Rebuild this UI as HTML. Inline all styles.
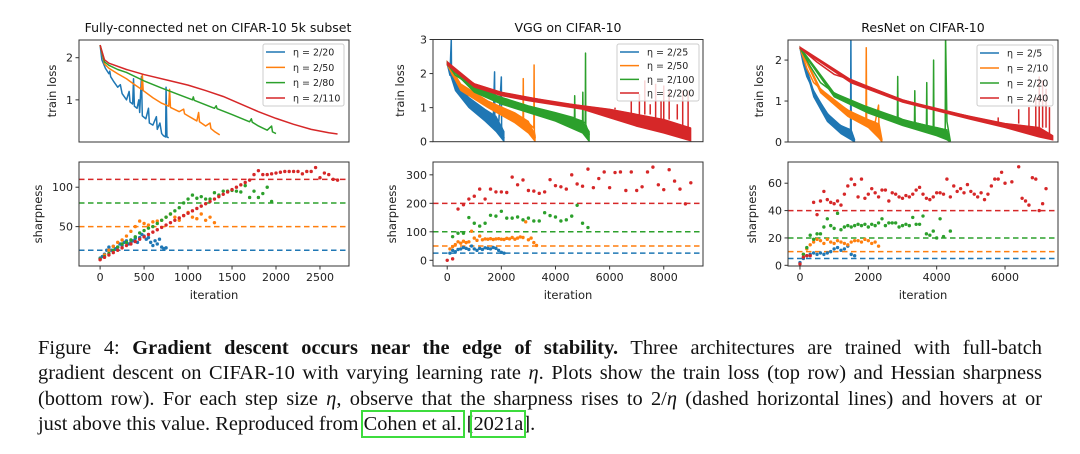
<!DOCTYPE html>
<html><head><meta charset="utf-8">
<style>
body{margin:0;width:1080px;height:454px;background:#fff;overflow:hidden;position:relative}
svg{position:absolute;left:0;top:0}
#cap{position:absolute;left:38px;top:336px;width:1004px;font-family:"Liberation Serif",serif;font-size:20.4px;line-height:25.4px;color:#111}
#cap div{text-align:justify;text-align-last:justify;white-space:nowrap}
#cap div.last{text-align-last:left}
.bx{outline:2px solid #3ddc3d;outline-offset:1px}
</style></head><body>
<svg id="fig" width="1080" height="330" xmlns="http://www.w3.org/2000/svg" font-family="DejaVu Sans, sans-serif"></svg>
<div id="cap">
<div>Figure 4: <b>Gradient descent occurs near the edge of stability.</b> Three architectures are trained with full-batch</div>
<div>gradient descent on CIFAR-10 with varying learning rate <i>η</i>. Plots show the train loss (top row) and Hessian sharpness</div>
<div>(bottom row). For each step size <i>η</i>, observe that the sharpness rises to 2/<i>η</i> (dashed horizontal lines) and hovers at or</div>
<div class="last">just above this value. Reproduced from <span class="bx">Cohen et al.</span> [<span class="bx">2021a</span>].</div>
</div>
<script>
// ---------- data ----------
const colors=["#1f77b4","#ff7f0e","#2ca02c","#d62728"];
const fcLabels=["η = 2/20","η = 2/50","η = 2/80","η = 2/110"];
const vggLabels=["η = 2/25","η = 2/50","η = 2/100","η = 2/200"];
const resLabels=["η = 2/5","η = 2/10","η = 2/20","η = 2/40"];
const fcThresholds=[20,50,80,110];
const vggThresholds=[25,50,100,200];
const resThresholds=[5,10,20,40];
// loss curves [iteration, loss]
const fcLossBlue=[[0,2.3],[20,1.95],[60,1.75],[100,1.62],[110,1.68],[120,1.55],[150,1.45],[200,1.3],[230,1.36],[250,1.15],[300,1.0],[330,1.2],[340,0.95],[370,0.9],[380,1.5],[390,0.85],[420,0.8],[440,1.0],[450,0.7],[470,1.55],[480,0.62],[520,0.55],[550,0.8],[560,0.45],[600,0.4],[640,0.6],[650,0.3],[680,0.45],[700,0.2],[720,0.15],[745,0.12],[750,1.3],[760,0.12],[780,0.1]];
const fcLossOrange=[[0,2.3],[50,1.85],[100,1.75],[200,1.62],[300,1.5],[400,1.35],[470,1.25],[480,1.6],[490,1.22],[600,1.05],[700,0.92],[780,0.85],[790,1.25],[800,0.82],[900,0.72],[950,0.78],[960,0.67],[1000,0.62],[1100,0.5],[1120,0.7],[1130,0.48],[1200,0.38],[1250,0.45],[1260,0.32],[1300,0.25],[1360,0.17]];
const fcLossGreen=[[0,2.3],[50,1.9],[100,1.82],[200,1.72],[300,1.65],[400,1.55],[500,1.45],[700,1.28],[900,1.12],[1050,1.0],[1060,1.07],[1070,0.99],[1300,0.8],[1320,0.86],[1330,0.79],[1500,0.65],[1700,0.48],[1720,0.55],[1730,0.47],[1800,0.38],[1900,0.28],[1950,0.38],[1960,0.24],[2000,0.2]];
const fcLossRed=[[0,2.3],[50,1.95],[100,1.87],[300,1.72],[500,1.6],[800,1.45],[1000,1.35],[1200,1.22],[1400,1.08],[1600,0.9],[1800,0.72],[2000,0.56],[2200,0.42],[2400,0.3],[2600,0.22],[2700,0.19]];
const vggLossBlue=[[0,2.3],[100,1.95],[150,3.0],[160,1.9],[300,1.65],[500,1.45],[800,1.2],[1100,1.0],[1400,0.8],[1700,0.6],[1750,2.05],[1760,0.58],[1900,0.5],[2000,1.9],[2010,0.45],[2100,0.1]];
const vggBandBlue=[[0,2.35,2.25],[300,1.75,1.5],[800,1.3,1.0],[1400,0.95,0.6],[1800,0.75,0.3],[2100,0.3,0.0]];
const vggLossOrange=[[0,2.3],[200,1.95],[500,1.65],[1000,1.35],[1500,1.15],[2000,1.0],[2500,0.8],[2800,0.65],[2810,1.85],[2820,0.65],[3000,0.55],[3200,0.4],[3210,2.25],[3220,0.3],[3250,0.1]];
const vggBandOrange=[[0,2.35,2.25],[500,1.7,1.5],[1500,1.2,1.0],[2500,0.85,0.55],[3000,0.6,0.25],[3250,0.2,0.0]];
const vggLossGreen=[[0,2.3],[300,1.95],[1000,1.6],[2000,1.3],[3000,1.05],[4000,0.85],[4700,0.7],[4710,1.35],[4720,0.68],[5000,0.6],[5010,1.45],[5020,0.58],[5100,0.55],[5110,2.6],[5120,0.5],[5250,0.2]];
const vggBandGreen=[[0,2.35,2.25],[1000,1.6,1.45],[2000,1.3,1.1],[3000,1.05,0.85],[4000,0.85,0.6],[5000,0.6,0.25],[5250,0.3,0.0]];
const vggLossRed=[[0,2.3],[300,2.05],[1000,1.7],[2000,1.45],[3000,1.3],[4000,1.15],[5000,1.05],[6000,0.95],[7000,0.8],[8000,0.65],[9000,0.4]];
const vggBandRed=[[0,2.35,2.25],[1000,1.7,1.6],[2000,1.45,1.35],[3000,1.3,1.2],[5000,1.05,0.95],[6000,0.95,0.7],[7000,0.8,0.45],[8000,0.65,0.25],[9000,0.4,0.02]];
const vggSpikesRed=[[6200,1.0],[6800,1.2],[7100,1.4],[7300,1.8],[7500,1.1],[7700,1.7],[7900,1.2],[8000,1.65],[8200,1.5],[8500,1.1],[8700,1.5],[8900,1.5]];
const resLossBlue=[[0,2.3],[100,1.9],[200,1.6],[400,1.25],[600,0.95],[800,0.7],[1000,0.5],[1200,0.4],[1400,0.32],[1480,0.3],[1490,2.6],[1500,0.28],[1600,0.05]];
const resBandBlue=[[0,2.32,2.28],[400,1.25,1.1],[800,0.7,0.5],[1200,0.4,0.2],[1500,0.3,0.05],[1600,0.05,0.0]];
const resLossOrange=[[0,2.3],[200,1.8],[400,1.45],[600,1.3],[1000,1.0],[1400,0.78],[1800,0.6],[1930,0.55],[1940,2.3],[1950,0.55],[2200,0.48],[2300,0.9],[2310,0.45],[2400,0.05]];
const resBandOrange=[[0,2.32,2.28],[600,1.3,1.2],[1400,0.78,0.62],[2000,0.55,0.35],[2300,0.45,0.1],[2400,0.05,0]];
const resLossGreen=[[0,2.3],[300,1.85],[600,1.45],[1000,1.2],[1500,0.98],[2000,0.85],[2500,0.7],[2850,0.6],[2860,1.6],[2870,0.6],[3000,0.55],[3350,0.47],[3360,1.25],[3370,0.47],[3700,0.4],[3710,1.45],[3720,0.4],[3900,0.37],[3910,2.0],[3920,0.36],[4000,0.35],[4250,0.3],[4260,2.6],[4300,0.5],[4400,0.02]];
const resBandGreen=[[0,2.32,2.28],[1000,1.2,1.1],[2000,0.85,0.7],[3000,0.55,0.4],[4000,0.35,0.15],[4300,0.3,0.05],[4400,0.02,0]];
const resLossRed=[[0,2.3],[500,1.95],[1000,1.65],[1500,1.52],[2000,1.35],[3000,1.03],[4000,0.8],[5000,0.62],[6000,0.45],[7000,0.35],[7400,0.15]];
const resBandRed=[[0,2.32,2.28],[1500,1.52,1.44],[3000,1.03,0.97],[5000,0.62,0.55],[6000,0.45,0.35],[7000,0.35,0.12],[7400,0.15,0.05]];
const resSpikesRed=[[5800,0.6],[6400,0.8],[6700,0.85],[6900,1.1],[7000,1.6],[7100,1.5],[7200,1.3],[7300,0.85]];
// sharpness [iteration, value]
const fcSharpBlue=[[0,10],[25,12],[50,15],[75,20],[100,24],[125,20],[150,25],[175,22],[200,24],[225,28],[250,26],[275,30],[300,32],[325,28],[350,30],[375,32],[400,35],[425,30],[450,36],[475,40],[500,38],[525,34],[550,36],[575,30],[600,26],[625,32],[650,28],[675,34],[700,24],[725,22],[750,23]];
const fcSharpOrange=[[0,9],[50,14],[100,20],[150,25],[200,30],[250,33],[300,38],[350,44],[400,50],[450,57],[500,54],[550,52],[600,56],[650,57],[700,58],[750,62],[800,66],[850,62],[900,58],[950,64],[1000,68],[1050,62],[1100,60],[1150,66],[1200,58],[1250,62],[1300,55]];
const fcSharpGreen=[[0,9],[50,12],[100,16],[150,20],[200,24],[250,28],[300,30],[350,33],[400,37],[450,42],[500,45],[550,48],[600,50],[650,54],[700,58],[750,62],[800,66],[850,70],[900,74],[950,80],[1000,85],[1050,90],[1100,86],[1150,88],[1200,85],[1250,85],[1300,93],[1350,90],[1400,95],[1450,95],[1500,96],[1550,95],[1600,94],[1650,102],[1700,87],[1750,95],[1800,87],[1850,92],[1900,100],[1950,82]];
const fcSharpRed=[[0,8],[50,11],[100,14],[150,17],[200,20],[250,23],[300,26],[350,28],[400,31],[450,34],[500,37],[550,40],[600,43],[650,46],[700,49],[750,52],[800,55],[850,58],[900,61],[950,64],[1000,67],[1050,70],[1100,73],[1150,76],[1200,79],[1250,82],[1300,85],[1350,88],[1400,91],[1450,94],[1500,97],[1550,100],[1600,103],[1650,106],[1700,109],[1750,116],[1800,121],[1850,116],[1900,116],[1950,117],[2000,118],[2050,119],[2100,120],[2150,120],[2200,120],[2250,120],[2300,117],[2350,120],[2400,120],[2450,125],[2500,112],[2550,118],[2600,116],[2650,110],[2700,109]];
const vggSharpBlue=[[100,25],[200,35],[300,30],[400,38],[500,40],[600,45],[700,42],[800,38],[900,50],[1000,40],[1100,35],[1200,42],[1300,38],[1400,44],[1500,42],[1600,40],[1700,45],[1800,42],[1900,35],[2000,28],[2100,25]];
const vggSharpOrange=[[100,40],[200,48],[300,55],[400,65],[500,60],[600,67],[700,62],[800,65],[900,102],[1000,78],[1100,70],[1200,85],[1300,72],[1400,75],[1500,74],[1600,76],[1700,73],[1800,75],[1900,76],[2000,74],[2100,73],[2200,77],[2300,75],[2400,80],[2500,74],[2600,78],[2700,82],[2800,80],[2900,135],[3000,72],[3100,78],[3200,62],[3300,52]];
const vggSharpGreen=[[200,83],[400,95],[600,95],[800,150],[1000,130],[1200,120],[1400,130],[1600,158],[1800,155],[2000,172],[2200,148],[2400,148],[2600,152],[2800,142],[3000,148],[3200,138],[3400,138],[3600,167],[3800,157],[4000,152],[4200,138],[4400,142],[4600,155],[4800,193],[5000,130],[5200,115]];
const vggSharpRed=[[0,0],[200,5],[400,180],[600,195],[800,215],[1000,225],[1200,250],[1400,215],[1600,250],[1800,240],[2000,240],[2200,238],[2400,292],[2600,265],[2800,282],[3000,245],[3200,243],[3400,235],[3600,240],[3800,283],[4000,262],[4200,258],[4400,250],[4600,300],[4800,268],[5000,260],[5200,320],[5400,255],[5600,287],[5800,310],[6000,255],[6200,308],[6400,310],[6600,245],[6800,310],[7000,245],[7200,258],[7400,310],[7600,327],[7800,265],[8000,248],[8200,318],[8400,278],[8600,250],[8800,198],[9000,272]];
const resSharpBlue=[[0,2],[100,5],[200,7],[300,8],[400,9],[500,8],[600,9],[700,8],[800,9],[900,10],[1000,12],[1100,13],[1200,11],[1300,12],[1400,14],[1500,8],[1600,7]];
const resSharpOrange=[[100,8],[200,12],[300,15],[400,17],[500,19],[600,18],[700,16],[800,19],[900,17],[1000,16],[1100,18],[1200,17],[1300,16],[1400,15],[1500,17],[1600,18],[1700,18],[1800,17],[1900,19],[2000,18],[2100,16],[2200,17],[2300,14]];
const resSharpGreen=[[100,8],[200,13],[300,22],[400,19],[500,23],[600,23],[700,28],[800,34],[900,29],[1000,27],[1100,38],[1200,26],[1300,28],[1400,29],[1500,28],[1600,29],[1700,30],[1800,29],[1900,30],[2000,28],[2100,30],[2200,29],[2300,31],[2400,34],[2500,29],[2600,31],[2700,31],[2800,31],[2900,28],[3000,29],[3100,30],[3200,29],[3300,35],[3400,30],[3500,30],[3600,36],[3700,23],[3800,22],[3900,25],[4000,20],[4100,34],[4200,21],[4400,25]];
const resSharpRed=[[0,1],[100,6],[200,7],[300,7],[400,46],[500,37],[600,47],[700,54],[800,48],[900,46],[1000,45],[1100,47],[1200,44],[1300,52],[1400,58],[1500,63],[1600,59],[1700,50],[1800,63],[1900,49],[2000,52],[2100,56],[2200,53],[2300,50],[2400,55],[2500,55],[2600,47],[2700,53],[2800,52],[2900,50],[3000,49],[3100,51],[3200,50],[3300,52],[3400,55],[3500,57],[3600,52],[3700,49],[3800,48],[3900,50],[4000,53],[4100,53],[4200,52],[4300,63],[4400,50],[4500,58],[4600,54],[4700,56],[4800,53],[4900,59],[5000,54],[5100,52],[5200,50],[5300,53],[5400,48],[5500,52],[5600,58],[5700,63],[5800,63],[5900,68],[6000,60],[6200,61],[6400,72],[6500,49],[6600,47],[6700,44],[6800,64],[6900,63],[7000,40],[7100,45],[7200,56]];
const fcXTicks=[0,500,1000,1500,2000,2500];
const vggXTicks=[0,2000,4000,6000,8000];
const resXTicks=[0,2000,4000,6000];

// ---------- layout ----------
const NS="http://www.w3.org/2000/svg";
const fig=document.getElementById('fig');
function el(tag,attrs,parent){const e=document.createElementNS(NS,tag);for(const k in attrs)e.setAttribute(k,attrs[k]);(parent||fig).appendChild(e);return e;}
function txt(s,attrs,parent){const e=el('text',attrs,parent);e.textContent=s;return e;}

const panels=[
 {title:"Fully-connected net on CIFAR-10 5k subset",tx:218,L:79,R:349,xmin:-240,xmax:2830,
  tY:[40,142],tDom:[2.42,0],tTicks:[1,2],bY:[162,266],bDom:[132,0],bTicks:[50,100],xTicks:fcXTicks,
  ylabX1:52,ylabX2:38,labels:fcLabels,leg:[263,44,81,62],thr:fcThresholds,
  loss:[fcLossBlue,fcLossOrange,fcLossGreen,fcLossRed],band:[null,null,null,null],spikes:[null,null,null,null],
  sharp:[fcSharpBlue,fcSharpOrange,fcSharpGreen,fcSharpRed]},
 {title:"VGG on CIFAR-10",tx:568,L:433,R:703,xmin:-525,xmax:9450,
  tY:[39.5,141.7],tDom:[3,0],tTicks:[0,1,2,3],bY:[162,266],bDom:[345,-20],bTicks:[0,100,200,300],xTicks:vggXTicks,
  ylabX1:400,ylabX2:392,labels:vggLabels,leg:[617,44,82,57],thr:vggThresholds,
  loss:[vggLossBlue,vggLossOrange,vggLossGreen,vggLossRed],band:[vggBandBlue,vggBandOrange,vggBandGreen,vggBandRed],spikes:[null,null,null,vggSpikesRed],
  sharp:[vggSharpBlue,vggSharpOrange,vggSharpGreen,vggSharpRed]},
 {title:"ResNet on CIFAR-10",tx:923,L:788,R:1058,xmin:-350,xmax:7550,
  tY:[40,142],tDom:[2.49,0],tTicks:[0,1,2],bY:[162,266],bDom:[75.5,-0.5],bTicks:[0,20,40,60],xTicks:resXTicks,
  ylabX1:759,ylabX2:752,labels:resLabels,leg:[977,45,76,61],thr:resThresholds,
  loss:[resLossBlue,resLossOrange,resLossGreen,resLossRed],band:[resBandBlue,resBandOrange,resBandGreen,resBandRed],spikes:[null,null,null,resSpikesRed],
  sharp:[resSharpBlue,resSharpOrange,resSharpGreen,resSharpRed]}
];

panels.forEach((p,pi)=>{
 const g=el('g',{});
 
 
 const sx=v=>p.L+(v-p.xmin)/(p.xmax-p.xmin)*(p.R-p.L);
 const syT=v=>p.tY[0]+(p.tDom[0]-v)/(p.tDom[0]-p.tDom[1])*(p.tY[1]-p.tY[0]);
 const syB=v=>p.bY[0]+(p.bDom[0]-v)/(p.bDom[0]-p.bDom[1])*(p.bY[1]-p.bY[0]);
 const t=txt(p.title,{x:p.tx,y:32,'font-size':12.5,'text-anchor':'middle',fill:'#111'},g);
 
 
 const cid='c'+pi;
 const defs=el('defs',{},g);
 const cp=el('clipPath',{id:cid+'t'},defs);el('rect',{x:p.L,y:p.tY[0],width:p.R-p.L,height:p.tY[1]-p.tY[0]},cp);
 const cp2=el('clipPath',{id:cid+'b'},defs);el('rect',{x:p.L,y:p.bY[0],width:p.R-p.L,height:p.bY[1]-p.bY[0]},cp2);
 const gt=el('g',{'clip-path':`url(#${cid}t)`},g);
 p.loss.forEach((arr,si)=>{
  const band=p.band[si];
  if(band){
   const up=band.map(d=>sx(d[0])+','+syT(d[1]));
   const lo=band.slice().reverse().map(d=>sx(d[0])+','+syT(d[2]));
   const poly=el('polygon',{points:up.concat(lo).join(' '),fill:colors[si],stroke:colors[si],'stroke-width':1},gt);
   
   
  }
  const line=el('polyline',{points:arr.map(d=>sx(d[0])+','+syT(d[1])).join(' '),fill:'none',stroke:colors[si],'stroke-width':1.5,'stroke-linejoin':'round'},gt);
  
  
  const sp=p.spikes[si];
  if(sp){sp.forEach(d=>{
   const base=arr.reduce((a,b)=>Math.abs(b[0]-d[0])<Math.abs(a[0]-d[0])?b:a);
   const s=el('line',{x1:sx(d[0]),x2:sx(d[0]),y1:syT(base[1]),y2:syT(d[1]),stroke:colors[si],'stroke-width':1.5},gt);
   
   
  });}
 });
 const gb=el('g',{'clip-path':`url(#${cid}b)`},g);
 p.thr.forEach((v,si)=>{
  const l=el('line',{x1:p.L,x2:p.R,y1:syB(v),y2:syB(v),stroke:colors[si],'stroke-width':1.5,'stroke-dasharray':'5.5,3.5'},gb);
  
  
 });
 p.sharp.forEach((arr,si)=>{arr.forEach(d=>{
  const c=el('circle',{cx:sx(d[0]),cy:syB(d[1]),r:1.7,fill:colors[si]},gb);
  
  
 });});
 [[p.tY,'top-axes-frame'],[p.bY,'bottom-axes-frame']].forEach(([yy,n])=>{
  const r=el('rect',{x:p.L,y:yy[0],width:p.R-p.L,height:yy[1]-yy[0],fill:'none',stroke:'#333','stroke-width':1},g);
  
  
 });
 p.tTicks.forEach(v=>{const y=syT(v);el('line',{x1:p.L-3.5,x2:p.L,y1:y,y2:y,stroke:'#333'},g);
  const tt=txt(String(v),{x:p.L-6,y:y+4,'font-size':11,'text-anchor':'end',fill:'#222'},g);
  });
 p.bTicks.forEach(v=>{const y=syB(v);el('line',{x1:p.L-3.5,x2:p.L,y1:y,y2:y,stroke:'#333'},g);
  const tt=txt(String(v),{x:p.L-6,y:y+4,'font-size':11,'text-anchor':'end',fill:'#222'},g);
  });
 p.xTicks.forEach(v=>{const x=sx(v);el('line',{x1:x,x2:x,y1:p.bY[1],y2:p.bY[1]+3.5,stroke:'#333'},g);
  const tt=txt(String(v),{x:x,y:p.bY[1]+15,'font-size':11,'text-anchor':'middle',fill:'#222'},g);
  });
 const xl=txt('iteration',{x:(p.L+p.R)/2,y:299,'font-size':11.5,'text-anchor':'middle',fill:'#222'},g);
 
 const yl1=txt('train loss',{x:0,y:0,'font-size':11.5,'text-anchor':'middle',fill:'#222',transform:`translate(${p.ylabX1+4},${(p.tY[0]+p.tY[1])/2}) rotate(-90)`},g);
 
 const yl2=txt('sharpness',{x:0,y:0,'font-size':11.5,'text-anchor':'middle',fill:'#222',transform:`translate(${p.ylabX2+4},${(p.bY[0]+p.bY[1])/2}) rotate(-90)`},g);
 
 const [lx,ly,lw,lh]=p.leg;
 const lg=el('g',{},g);
 
 
 el('rect',{x:lx,y:ly,width:lw,height:lh,fill:'#fff','fill-opacity':0.8,stroke:'#ccc',rx:2},lg);
 p.labels.forEach((s,i)=>{
  const yy=ly+8+i*((lh-16)/3);
  const e=el('g',{},lg);
  
  
  el('line',{x1:lx+3,x2:lx+22,y1:yy,y2:yy,stroke:colors[i],'stroke-width':1.5},e);
  txt(s,{x:lx+30,y:yy+3.5,'font-size':9.5,fill:'#222'},e);
 });
});
</script>
</body></html>
